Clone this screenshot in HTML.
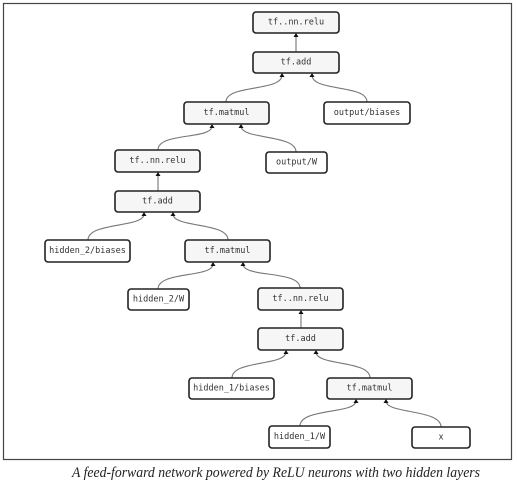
<!DOCTYPE html>
<html><head><meta charset="utf-8"><style>
html,body{margin:0;padding:0;background:#fff;width:517px;height:484px;overflow:hidden}
svg{display:block}
.b{stroke:#222;stroke-width:1.6;rx:3}
.g{fill:#f6f6f6}.w{fill:#fff}
text.t{font-family:"DejaVu Sans Mono","Liberation Mono",monospace;font-size:8.5px;fill:#333;text-anchor:middle;dominant-baseline:central}
.e{fill:none;stroke:#777;stroke-width:1.1}
</style></head><body>
<svg width="517" height="484" viewBox="0 0 517 484">
<rect x="3.5" y="3.5" width="508" height="456" fill="#fff" stroke="#444" stroke-width="1.2"/>
<g class="edges">
<path class="e" d="M296,52 V35"/>
<path class="e" d="M226,102 C226,84 282,92 282,75"/>
<path class="e" d="M367,102 C367,84 312,92 312,75"/>
<path class="e" d="M158,150 C158,132 212,140 212,126"/>
<path class="e" d="M296,152 C296,134 241,140 241,126"/>
<path class="e" d="M158,191 V174"/>
<path class="e" d="M88,240 C88,222 144,228 144,214"/>
<path class="e" d="M228,240 C228,222 173,228 173,214"/>
<path class="e" d="M158,289 C158,271 213,278 213,264"/>
<path class="e" d="M300,288 C300,270 243,278 243,264"/>
<path class="e" d="M301,328 V312"/>
<path class="e" d="M232,378 C232,360 286,366 286,352"/>
<path class="e" d="M370,378 C370,360 316,366 316,352"/>
<path class="e" d="M300,426 C300,408 356,414 356,401"/>
<path class="e" d="M441,427 C441,409 386,414 386,401"/>
</g>
<g fill="#111">
<path d="M293.5,37 L296,33 L298.5,37Z"/>
<path d="M279.5,77 L282,73 L284.5,77Z"/><path d="M309.5,77 L312,73 L314.5,77Z"/>
<path d="M209.5,128 L212,124 L214.5,128Z"/><path d="M238.5,128 L241,124 L243.5,128Z"/>
<path d="M155.5,176 L158,172 L160.5,176Z"/>
<path d="M141.5,216 L144,212 L146.5,216Z"/><path d="M170.5,216 L173,212 L175.5,216Z"/>
<path d="M210.5,266 L213,262 L215.5,266Z"/><path d="M240.5,266 L243,262 L245.5,266Z"/>
<path d="M298.5,314 L301,310 L303.5,314Z"/>
<path d="M283.5,354 L286,350 L288.5,354Z"/><path d="M313.5,354 L316,350 L318.5,354Z"/>
<path d="M353.5,403 L356,399 L358.5,403Z"/><path d="M383.5,403 L386,399 L388.5,403Z"/>
</g>
<rect class="b g" x="253" y="12" width="86" height="21"/><text class="t" x="296" y="22.5">tf..nn.relu</text>
<rect class="b g" x="253" y="52" width="86" height="21"/><text class="t" x="296" y="62.5">tf.add</text>
<rect class="b g" x="184" y="102" width="85" height="22"/><text class="t" x="226.5" y="113">tf.matmul</text>
<rect class="b w" x="324" y="102" width="86" height="22"/><text class="t" x="367" y="113">output/biases</text>
<rect class="b g" x="115" y="150" width="85" height="22"/><text class="t" x="157.5" y="161">tf..nn.relu</text>
<rect class="b w" x="266" y="152" width="61" height="21"/><text class="t" x="296.5" y="162.5">output/W</text>
<rect class="b g" x="115" y="191" width="85" height="21"/><text class="t" x="157.5" y="201.5">tf.add</text>
<rect class="b w" x="45" y="240" width="85" height="22"/><text class="t" x="87.5" y="251">hidden_2/biases</text>
<rect class="b g" x="185" y="240" width="85" height="22"/><text class="t" x="227.5" y="251">tf.matmul</text>
<rect class="b w" x="128" y="289" width="61" height="21"/><text class="t" x="158.5" y="299.5">hidden_2/W</text>
<rect class="b g" x="258" y="288" width="85" height="22"/><text class="t" x="300.5" y="299">tf..nn.relu</text>
<rect class="b g" x="258" y="328" width="85" height="22"/><text class="t" x="300.5" y="339">tf.add</text>
<rect class="b w" x="189" y="378" width="85" height="21"/><text class="t" x="231.5" y="388.5">hidden_1/biases</text>
<rect class="b g" x="327" y="378" width="85" height="21"/><text class="t" x="369.5" y="388.5">tf.matmul</text>
<rect class="b w" x="269" y="426" width="61" height="22"/><text class="t" x="299.5" y="437">hidden_1/W</text>
<rect class="b w" x="412" y="427" width="58" height="21"/><text class="t" x="441" y="437.5">x</text>
<text x="72" y="477" font-family="'Liberation Serif',serif" font-style="italic" font-size="15" fill="#222" textLength="408" lengthAdjust="spacingAndGlyphs">A feed-forward network powered by ReLU neurons with two hidden layers</text>
</svg>
</body></html>
